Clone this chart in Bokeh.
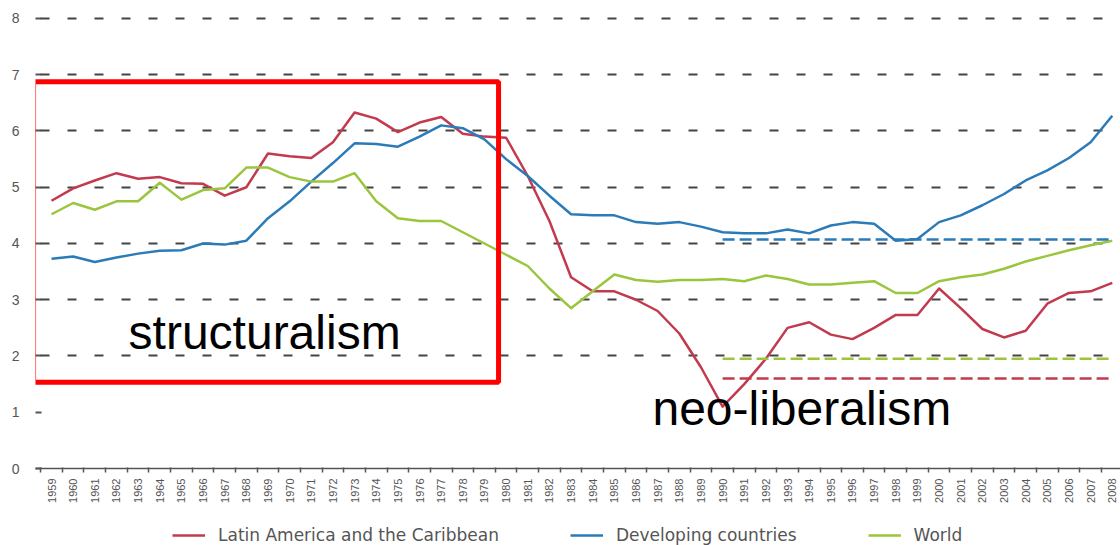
from bokeh.plotting import figure
from bokeh.models import (Range1d, FixedTicker, Legend, LegendItem, BoxAnnotation, Label)
from bokeh.layouts import column
from bokeh.embed import file_html
from bokeh.resources import INLINE
import math

years = list(range(1959, 2009))

latin_america = [4.76, 4.98, 5.12, 5.25, 5.15, 5.18, 5.07, 5.06, 4.85, 5.00,
                 5.60, 5.55, 5.52, 5.80, 6.33, 6.22, 5.98, 6.15, 6.25, 5.95,
                 5.90, 5.88, 5.20, 4.40, 3.40, 3.15, 3.15, 3.00, 2.80, 2.40,
                 1.80, 1.10, 1.50, 1.95, 2.50, 2.60, 2.38, 2.30, 2.50, 2.73,
                 2.73, 3.20, 2.85, 2.48, 2.33, 2.45, 2.93, 3.12, 3.15, 3.30]

developing = [3.73, 3.77, 3.67, 3.75, 3.82, 3.87, 3.88, 4.00, 3.98, 4.05,
              4.45, 4.75, 5.10, 5.43, 5.78, 5.77, 5.72, 5.90, 6.10, 6.05,
              5.85, 5.50, 5.20, 4.85, 4.52, 4.50, 4.50, 4.38, 4.35, 4.38,
              4.30, 4.20, 4.18, 4.18, 4.25, 4.18, 4.32, 4.38, 4.35, 4.05,
              4.08, 4.38, 4.50, 4.68, 4.88, 5.12, 5.30, 5.52, 5.80, 6.27]

world = [4.52, 4.72, 4.60, 4.75, 4.75, 5.08, 4.78, 4.95, 4.98, 5.35,
         5.35, 5.18, 5.10, 5.10, 5.25, 4.75, 4.45, 4.40, 4.40, 4.20,
         4.00, 3.80, 3.60, 3.20, 2.85, 3.15, 3.45, 3.35, 3.32, 3.35,
         3.35, 3.37, 3.33, 3.43, 3.37, 3.27, 3.27, 3.30, 3.33, 3.12,
         3.12, 3.33, 3.40, 3.45, 3.55, 3.68, 3.78, 3.88, 3.97, 4.05]

# period averages 1990-2008 (dashed reference lines)
avg_period = [1990, 2008]
avg_latin_america = 1.60
avg_developing = 4.07
avg_world = 1.95

series_names = ["Latin America and the Caribbean", "Developing countries", "World"]
y_ticks = [0, 1, 2, 3, 4, 5, 6, 7, 8]
grid_ticks = [2, 3, 4, 5, 6, 7, 8]

RED = "#c23a4e"
BLUE = "#2b7bb9"
GREEN = "#9bc53d"
GRAY = "#555555"

p = figure(width=1120, height=510, output_backend="svg", toolbar_location=None,
           x_range=Range1d(1958.26, 2008.38), y_range=Range1d(0, 8.142),
           min_border_left=35, min_border_right=0, min_border_top=10, min_border_bottom=42)
p.outline_line_color = None
p.background_fill_color = "white"
p.border_fill_color = "white"

# axes
p.xaxis.ticker = FixedTicker(ticks=years, minor_ticks=[y - 0.5 for y in years] + [years[-1] + 0.5])
p.xaxis.major_tick_out = 0
p.xaxis.major_tick_in = 0
p.xaxis.minor_tick_out = 4
p.xaxis.minor_tick_in = 1
p.xaxis.minor_tick_line_color = GRAY
p.xaxis.minor_tick_line_width = 1.5
p.xaxis.axis_line_color = GRAY
p.xaxis.axis_line_width = 1.5
p.xaxis.major_label_orientation = math.pi / 2
p.xaxis.major_label_text_font = "Liberation Sans"
p.xaxis.major_label_text_font_size = "11px"
p.xaxis.major_label_text_color = GRAY
p.xaxis.major_label_standoff = 6

p.yaxis.ticker = FixedTicker(ticks=y_ticks)
p.yaxis.axis_line_color = None
p.yaxis.major_tick_out = 0
p.yaxis.major_tick_in = 6
p.yaxis.major_tick_line_color = GRAY
p.yaxis.major_tick_line_width = 2
p.yaxis.minor_tick_line_color = None
p.yaxis.major_label_text_font = "Liberation Sans"
p.yaxis.major_label_text_font_size = "14px"
p.yaxis.major_label_text_color = GRAY
p.yaxis.major_label_standoff = 16

p.xgrid.grid_line_color = None
p.ygrid.ticker = FixedTicker(ticks=grid_ticks)
p.ygrid.grid_line_color = "#444444"
p.ygrid.grid_line_width = 2
p.ygrid.grid_line_dash = "9 18"
p.ygrid.grid_line_dash_offset = 22

# series
p.line(years, latin_america, line_color=RED, line_width=2.5, line_join="round")
p.line(years, developing, line_color=BLUE, line_width=2.5, line_join="round")
p.line(years, world, line_color=GREEN, line_width=2.5, line_join="round")

# period averages
p.line(avg_period, [avg_developing] * 2, line_color=BLUE, line_width=2.5, line_dash="12 5")
p.line(avg_period, [avg_world] * 2, line_color=GREEN, line_width=2.5, line_dash="12 5")
p.line(avg_period, [avg_latin_america] * 2, line_color=RED, line_width=2.5, line_dash="12 5")

# annotation box and texts
box = BoxAnnotation(left=1958.17, right=1979.65, top=6.875, bottom=1.535,
                    fill_alpha=0, line_color="#ff0000", line_alpha=1.0, line_width=5)
p.add_layout(box)
p.add_layout(Label(x=1962.56, y=2.41, text="structuralism", text_font="Liberation Sans",
                   text_font_size="48px", text_color="black", text_baseline="alphabetic"))
p.add_layout(Label(x=1986.76, y=1.07, text="neo-liberalism", text_font="Liberation Sans",
                   text_font_size="48px", text_color="black", text_baseline="alphabetic"))

# legend strip below the chart (its line renderers sit outside the visible range)
lg = figure(width=1120, height=35, output_backend="svg", toolbar_location=None,
            x_range=Range1d(0, 1), y_range=Range1d(0, 1),
            min_border=0, x_axis_location=None, y_axis_location=None)
lg.outline_line_color = None
lg.grid.visible = False
l_lac = lg.line([-5, -4], [-5, -5], line_color=RED, line_width=2.5)
l_dev = lg.line([-5, -4], [-5, -5], line_color=BLUE, line_width=2.5)
l_wld = lg.line([-5, -4], [-5, -5], line_color=GREEN, line_width=2.5)

legend = Legend(items=[LegendItem(label=series_names[0], renderers=[l_lac]),
                       LegendItem(label=series_names[1], renderers=[l_dev]),
                       LegendItem(label=series_names[2], renderers=[l_wld])],
                orientation="horizontal", location=(137, 0),
                padding=0, margin=0, spacing=71, glyph_width=33, glyph_height=20,
                label_standoff=13, label_height=20,
                label_text_font="DejaVu Sans", label_text_font_size="17px",
                label_text_color=GRAY, border_line_color=None, background_fill_alpha=0)
lg.add_layout(legend, "center")

layout = column(p, lg, spacing=0)
open("out.html", "w").write(file_html(layout, INLINE))
